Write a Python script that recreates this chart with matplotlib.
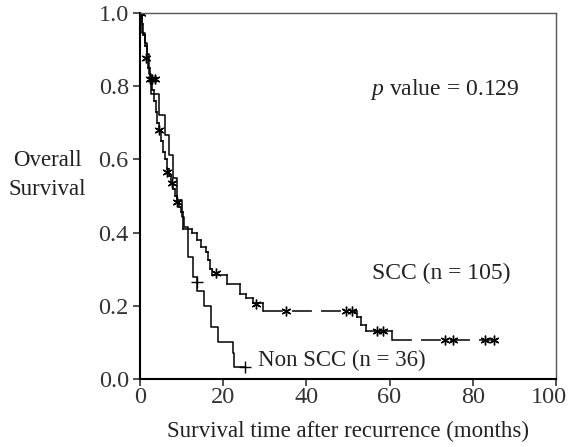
import numpy as np
import matplotlib.pyplot as plt
import matplotlib.transforms as mtransforms

plt.rcParams['font.family'] = ['Liberation Serif', 'DejaVu Serif']
plt.rcParams['mathtext.fontset'] = 'custom'
plt.rcParams['mathtext.rm'] = 'Liberation Serif'
plt.rcParams['mathtext.it'] = 'Liberation Serif:italic'

# Kaplan-Meier step values
scc_t = [0, 0.4, 0.8, 1.2, 1.6, 2.0, 2.4, 2.8, 3.3, 3.8, 4.2, 4.6, 5.0, 5.5, 6.0, 6.5,
         7.0, 7.5, 8.0, 8.5, 9.0, 9.4, 9.8, 10.3, 12.6, 13.8, 14.7, 15.9, 16.3, 16.8,
         17.2, 21.0, 24.0, 25.6, 27.2, 29.6, 52.2, 53.1, 54.4, 60.6, 85.0]
scc_s = [1.0, 0.97, 0.94, 0.91, 0.88, 0.85, 0.82, 0.79, 0.76, 0.73, 0.70, 0.68, 0.65,
         0.62, 0.60, 0.575, 0.555, 0.535, 0.52, 0.50, 0.485, 0.47, 0.455, 0.41, 0.398,
         0.38, 0.362, 0.346, 0.325, 0.30, 0.285, 0.261, 0.232, 0.222, 0.208, 0.186,
         0.17, 0.148, 0.132, 0.107, 0.107]
scc_cens_t = [0.2, 0.3, 1.5, 2.4, 3.0, 3.6, 4.5, 6.5, 7.6, 8.8, 18.3, 28.0, 35.0,
              49.5, 51.0, 57.0, 58.5, 73.3, 75.3, 83.0, 85.0]
scc_cens_s = [1.0, 1.0, 0.877, 0.82, 0.82, 0.82, 0.68, 0.565, 0.535, 0.485, 0.29,
              0.205, 0.186, 0.186, 0.186, 0.132, 0.132, 0.107, 0.107, 0.107, 0.107]

non_t = [0, 0.6, 1.2, 1.8, 2.2, 2.6, 4.6, 5.9, 6.9, 7.9, 9.0, 10.2, 10.5, 11.6, 12.8,
         13.6, 15.4, 17.1, 18.8, 22.3, 22.6, 25.2]
non_s = [1.0, 0.944, 0.917, 0.889, 0.833, 0.78, 0.722, 0.667, 0.611, 0.55, 0.49,
         0.444, 0.416, 0.333, 0.28, 0.24, 0.20, 0.143, 0.10, 0.071, 0.033, 0.033]
non_cens_t = [13.6, 25.2]
non_cens_s = [0.265, 0.033]

x_ticks = [0, 20, 40, 60, 80, 100]
y_ticks = [0.0, 0.2, 0.4, 0.6, 0.8, 1.0]

fig = plt.figure(figsize=(5.69, 4.47), dpi=100)
ax = fig.add_axes([0.246, 0.152, 0.731, 0.819])

# SCC: short flats solid, long flats dashed
for i in range(len(scc_t) - 1):
    t0, t1 = scc_t[i], scc_t[i + 1]
    s0, s1 = scc_s[i], scc_s[i + 1]
    ls = (0, (13, 6)) if t1 - t0 > 8 else '-'
    ax.plot([t0, t1], [s0, s0], color='black', lw=1.1, linestyle=ls)
    if s1 != s0:
        ax.plot([t1, t1], [s0, s1], color='black', lw=1.1)
ax.plot(scc_cens_t, scc_cens_s, linestyle='none', marker=(6, 2, 0), ms=7,
        mec='black', mew=1.0)

ax.step(non_t, non_s, where='post', color='black', lw=1.1)
ax.plot(non_cens_t, non_cens_s, linestyle='none', marker='+', ms=8,
        mec='black', mew=1.0)

ax.set_xlim(0, 100)
ax.set_ylim(0, 1.0)
ax.set_xticks(x_ticks)
ax.set_yticks(y_ticks)
ax.set_yticklabels(['%.1f' % v for v in y_ticks])
ax.tick_params(direction='out', length=5, width=1.2, labelsize=17.5, colors='#333333')
ax.tick_params(axis='x', pad=1)
ax.tick_params(axis='y', pad=3)
# last x label nudged left so it stays inside the figure
last = ax.get_xticklabels()[-1]
last.set_transform(last.get_transform() +
                   mtransforms.ScaledTranslation(-7 / 100, 0, fig.dpi_scale_trans))
for side in ['left', 'bottom']:
    ax.spines[side].set_linewidth(1.5)
    ax.spines[side].set_color('black')
for side in ['top', 'right']:
    ax.spines[side].set_linewidth(1.0)
    ax.spines[side].set_color('#555555')

ax.set_xlabel('Survival time after recurrence (months)', fontsize=16.5,
              color='#222222', labelpad=9)
fig.text(0.083, 0.608, 'Overall\nSurvival', fontsize=16.5, ha='center', va='center',
         color='#222222', linespacing=1.5)

ax.text(55.3, 0.79, r'$p$ value = 0.129', fontsize=17, va='center',
        color='#222222')
ax.text(55.7, 0.289, 'SCC (n = 105)', fontsize=17, va='center', color='#222222')
ax.text(28.3, 0.052, 'Non SCC (n = 36)', fontsize=16.5, va='center', color='#222222')

fig.savefig('out.png', dpi=100)
